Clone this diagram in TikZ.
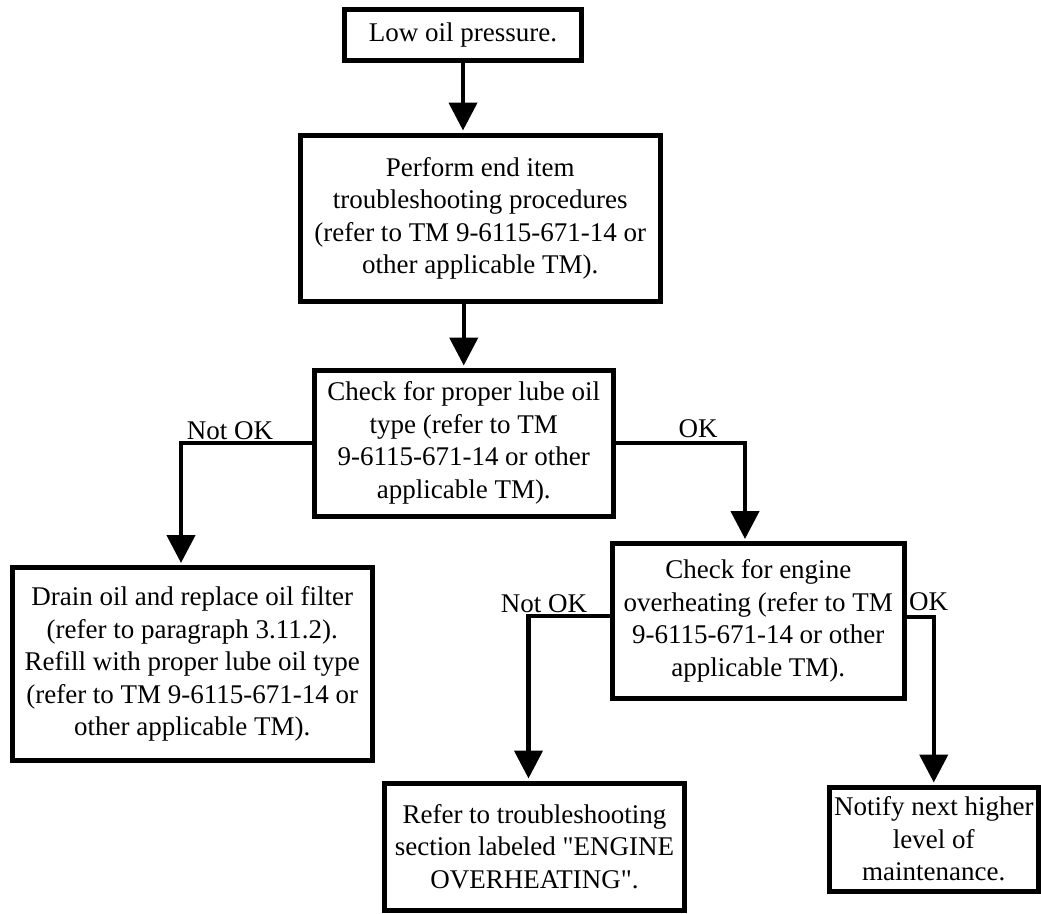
\documentclass[tikz,border=0pt]{standalone}
\usepackage{fontspec}
\setmainfont{Liberation Serif}[Ligatures=TeXOff]
\usepackage{tikz}
\usetikzlibrary{arrows.meta}

\begin{document}
\begin{tikzpicture}[x=1pt, y=-1pt,
  boite/.style={draw=black, line width=5pt, inner sep=0pt, align=center,
    font=\fontsize{27}{32.5}\selectfont},
  etiq/.style={inner sep=0pt, anchor=base, font=\fontsize{27}{32.5}\selectfont},
  flux/.style={line width=4.5pt, shorten >=2pt, -{Triangle[width=28pt,length=28pt]}}]

\useasboundingbox (0,0) rectangle (1041,913);

% Les boîtes
\node[boite, minimum width=237, minimum height=51] (basse) at (463,35) {Low oil pressure.};
\node[boite, minimum width=360.5, minimum height=166.5] (depann) at (480.25,218.25)
  {Perform end item\\troubleshooting procedures\\(refer to TM 9-6115-671-14 or\\other applicable TM).};
\node[boite, minimum width=298.5, minimum height=146] (huile) at (463.75,443)
  {Check for proper lube oil\\type (refer to TM\\9-6115-671-14 or other\\applicable TM).};
\node[boite, minimum width=360.5, minimum height=193] (vidange) at (192.25,664)
  {Drain oil and replace oil filter\\(refer to paragraph 3.11.2).\\Refill with proper lube oil type\\(refer to TM 9-6115-671-14 or\\other applicable TM).};
\node[boite, minimum width=292.5, minimum height=154.5] (chauffe) at (758.25,620.75)
  {Check for engine\\overheating (refer to TM\\9-6115-671-14 or other\\applicable TM).};
\node[boite, minimum width=300, minimum height=127] (renvoi) at (534.5,846.5)
  {Refer to troubleshooting\\section labeled "ENGINE\\OVERHEATING".};
\node[boite, minimum width=208.5, minimum height=104] (avis) at (933.75,839)
  {Notify next higher\\level of\\maintenance.};

% Les coudes
\coordinate (coudeA) at (181,443);
\coordinate (coudeB) at (745,443);
\coordinate (coudeC) at (528.5,616);
\coordinate (coudeD) at (933.75,617);

% Les flèches
\draw[flux] (basse.south) -- (basse.south |- depann.north);
\draw[flux] (huile.north |- depann.south) -- (huile.north);
\draw[flux] (huile.west) -- (coudeA) -- (coudeA |- vidange.north);
\draw[flux] (huile.east) -- (coudeB) -- (coudeB |- chauffe.north);
\draw[flux] (chauffe.west |- coudeC) -- (coudeC) -- (coudeC |- renvoi.north);
\draw[flux] (chauffe.east |- coudeD) -- (coudeD) -- (avis.north);

% Les étiquettes
\node[etiq] (nonA) at (230,439) {Not OK};
\node[etiq] (ouiA) at (698,437) {OK};
\node[etiq] (nonB) at (544,612) {Not OK};
\node[etiq] (ouiB) at (928.5,610) {OK};

\end{tikzpicture}
\end{document}
